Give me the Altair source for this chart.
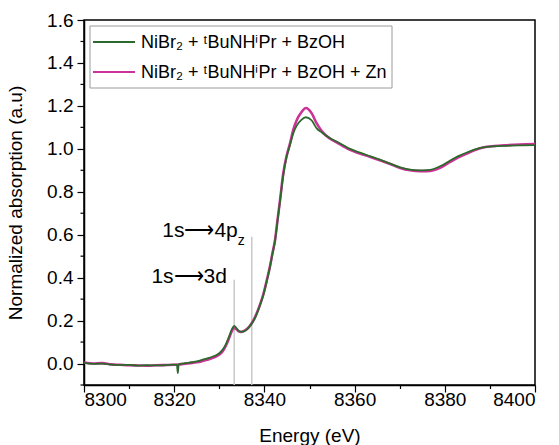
import altair as alt
import pandas as pd

# Ni K-edge XANES, normalized absorption vs photon energy
energy = [8300, 8302, 8304, 8306, 8308, 8310, 8312, 8314, 8316, 8318, 8320,
          8320.6, 8320.8, 8321.0, 8322, 8324, 8325, 8326, 8327, 8328, 8329,
          8330, 8330.8, 8331.5, 8332.2, 8332.8, 8333.3, 8333.8, 8334.3, 8334.8,
          8335.5, 8336.2, 8337, 8337.8, 8338.5, 8339.2, 8339.8, 8340.5, 8341.2,
          8341.8, 8342.35, 8342.9, 8343.46, 8344.19, 8344.9, 8345.68, 8346.4,
          8347.16, 8348.2, 8349.2, 8350.5, 8351.6, 8352.8, 8354.5, 8356, 8357.5,
          8359, 8361.2, 8363.5, 8365.6, 8368, 8370.1, 8372.3, 8374.5, 8376,
          8377.5, 8379.3, 8381.2, 8383, 8384.9, 8386.7, 8388.5, 8391, 8393.7,
          8396.5, 8400]

# NiBr2 + tBuNHiPr + BzOH
mu_ref = [0.003, -0.002, 0.000, -0.005, -0.007, -0.006, -0.010, -0.008, -0.009, -0.008, -0.005,
          -0.006, -0.045, -0.004, 0.000, 0.006, 0.010, 0.016, 0.022, 0.028, 0.036,
          0.048, 0.066, 0.092, 0.128, 0.160, 0.175, 0.165, 0.152, 0.148,
          0.150, 0.160, 0.180, 0.207, 0.242, 0.282, 0.322, 0.382, 0.446,
          0.512, 0.570, 0.662, 0.755, 0.878, 0.960, 1.018, 1.072,
          1.108, 1.135, 1.147, 1.132, 1.095, 1.075, 1.050, 1.034, 1.017,
          1.000, 0.982, 0.965, 0.950, 0.930, 0.914, 0.903, 0.900, 0.901,
          0.906, 0.922, 0.946, 0.966, 0.983, 0.997, 1.007, 1.012, 1.014,
          1.016, 1.017]

# NiBr2 + tBuNHiPr + BzOH + Zn
mu_zn = [0.005, 0.000, 0.002, -0.004, -0.006, -0.008, -0.009, -0.010, -0.008, -0.007, -0.006,
         -0.005, -0.006, -0.005, -0.002, 0.003, 0.006, 0.010, 0.016, 0.022, 0.030,
         0.042, 0.058, 0.085, 0.120, 0.152, 0.166, 0.160, 0.150, 0.147,
         0.152, 0.162, 0.182, 0.210, 0.245, 0.285, 0.325, 0.385, 0.449,
         0.515, 0.574, 0.667, 0.760, 0.886, 0.965, 1.026, 1.088,
         1.133, 1.170, 1.190, 1.165, 1.118, 1.080, 1.048, 1.030, 1.012,
         0.995, 0.978, 0.962, 0.947, 0.928, 0.911, 0.900, 0.896, 0.896,
         0.900, 0.915, 0.939, 0.960, 0.978, 0.994, 1.006, 1.013, 1.017,
         1.020, 1.022]

series_names = ["NiBr\u2082 + \u1d57BuNH\u2071Pr + BzOH",
                "NiBr\u2082 + \u1d57BuNH\u2071Pr + BzOH + Zn"]
series_colors = ["#2b6a2b", "#cc3399"]

# pre-edge / edge transition markers
trans_energy = [8333.3, 8337.2]
trans_top = [0.39, 0.59]

x_ticks = [8300, 8310, 8320, 8330, 8340, 8350, 8360, 8370, 8380, 8390, 8400]
y_major = [0.0, 0.2, 0.4, 0.6, 0.8, 1.0, 1.2, 1.4, 1.6]
y_minor = [-0.1, 0.1, 0.3, 0.5, 0.7, 0.9, 1.1, 1.3, 1.5]

FONT = "Liberation Sans"
X_MAJOR = "round(datum.value) % 20 == 0"

df_ref = pd.DataFrame({"E": energy, "mu": mu_ref})
df_zn = pd.DataFrame({"E": energy, "mu": mu_zn})
df_trans = pd.DataFrame({"E": trans_energy, "top": trans_top, "bottom": [-0.1, -0.1]})
df_minor = pd.DataFrame({"v": y_minor})

x_scale = alt.Scale(domain=[8300, 8400], nice=False, zero=False)
y_scale = alt.Scale(domain=[-0.1, 1.6], nice=False, zero=False)

x_axis = alt.Axis(
    values=x_ticks, format="d", title="Energy (eV)",
    labelExpr=f"{X_MAJOR} ? datum.label : ''",
    tickSize={"condition": {"test": X_MAJOR, "value": 7}, "value": 3.5},
    labelPadding=-2, titlePadding=17, labelOverlap=False,
)
y_axis = alt.Axis(
    values=y_major, format=".1f", title="Normalized absorption (a.u)",
    tickSize=7, labelPadding=4, titlePadding=21, labelOverlap=False,
)


def xe(field):
    return alt.X(field, type="quantitative", scale=x_scale, axis=x_axis)


def ye(field):
    return alt.Y(field, type="quantitative", scale=y_scale, axis=y_axis)


rules = alt.Chart(df_trans).mark_rule(color="#c8c8c8", strokeWidth=1.5).encode(
    x=xe("E"), y=ye("bottom"), y2="top:Q",
)

# short outward ticks between the labelled y ticks
minor_ticks = alt.Chart(df_minor).mark_rule(color="black", strokeWidth=1.2).encode(
    x=alt.value(-3.5), x2=alt.value(0), y=ye("v"),
)

line_zn = alt.Chart(df_zn).mark_line(color=series_colors[1], strokeWidth=2.6,
                                     interpolate="monotone").encode(x=xe("E"), y=ye("mu"))
line_ref = alt.Chart(df_ref).mark_line(color=series_colors[0], strokeWidth=1.8,
                                       interpolate="monotone").encode(x=xe("E"), y=ye("mu"))

lbl_3d = alt.Chart().mark_text(text="1s\u27f63d", font=FONT, fontSize=21, align="right",
                               baseline="alphabetic", color="black").encode(
    x=alt.datum(8331.7), y=alt.datum(0.373))
lbl_4p = alt.Chart().mark_text(text="1s\u27f64p", font=FONT, fontSize=21, align="right",
                               baseline="alphabetic", color="black").encode(
    x=alt.datum(8334.1), y=alt.datum(0.588))
lbl_4p_sub = alt.Chart().mark_text(text="z", font=FONT, fontSize=14, align="left",
                                   baseline="alphabetic", color="black").encode(
    x=alt.datum(8334.1), y=alt.datum(0.55))

# legend panel
legend_box = alt.Chart().mark_rect(fill="white", stroke="#9a9a9a", strokeWidth=1).encode(
    x=alt.value(6), x2=alt.value(308), y=alt.value(6), y2=alt.value(68))
legend_items = []
for i, (name, col) in enumerate(zip(series_names, series_colors)):
    ly = 22 + 30 * i
    legend_items.append(
        alt.Chart().mark_rule(color=col, strokeWidth=2).encode(
            x=alt.value(9), x2=alt.value(51), y=alt.value(ly)))
    legend_items.append(
        alt.Chart().mark_text(text=name, font=FONT, fontSize=18, align="left",
                              baseline="alphabetic", color="black").encode(
            x=alt.value(57), y=alt.value(ly + 6)))

chart = alt.layer(
    rules, minor_ticks, line_zn, line_ref, lbl_3d, lbl_4p, lbl_4p_sub, legend_box, *legend_items
).properties(
    width=451, height=365,
    autosize=alt.AutoSizeParams(type="none"),
    padding={"left": 84, "top": 20, "right": 24, "bottom": 60},
    background="white",
).configure_view(
    stroke="black", strokeWidth=1.5
).configure_axis(
    grid=False, domainColor="black", domainWidth=1.5, tickColor="black", tickWidth=1.2,
    labelFont=FONT, labelFontSize=19, labelColor="black",
    titleFont=FONT, titleFontSize=19, titleFontWeight="normal", titleColor="black",
)

chart.save("out.html", embed_options={"renderer": "svg", "actions": False})
